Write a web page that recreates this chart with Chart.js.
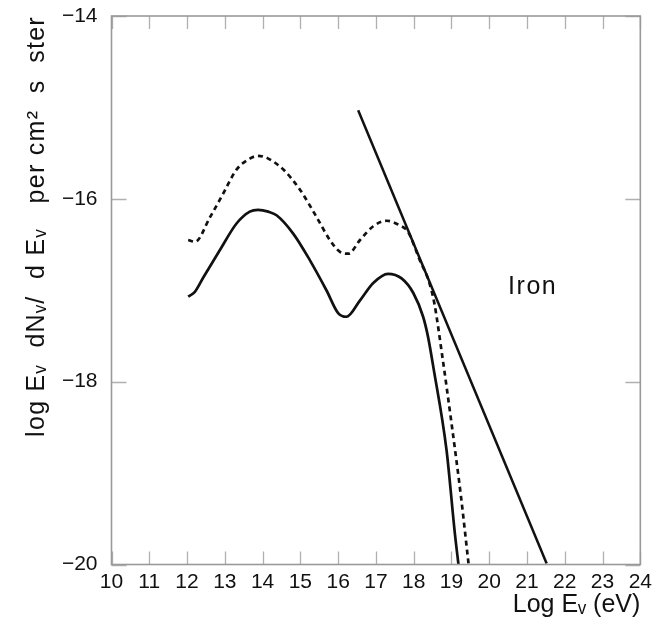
<!DOCTYPE html>
<html>
<head>
<meta charset="utf-8">
<script src="https://cdn.jsdelivr.net/npm/chart.js@4.4.1/dist/chart.umd.min.js"></script>
<style>
  html, body { margin: 0; padding: 0; background: #fff; }
  #wrap { width: 657px; height: 627px; }
</style>
</head>
<body>
<div id="wrap"><canvas id="c" width="657" height="627"></canvas></div>
<script>
// ---- data ----
const solidX  = [12.03, 12.20, 12.43, 12.87, 13.31, 13.66, 13.88, 14.15, 14.37, 14.81, 15.25, 15.69, 16.00, 16.22, 16.58, 16.93, 17.32, 17.68, 17.99, 18.25, 18.38, 18.52, 18.87, 19.09, 19.20];
const solidY  = [-17.07, -17.02, -16.86, -16.56, -16.27, -16.14, -16.12, -16.14, -16.18, -16.38, -16.67, -17.00, -17.25, -17.29, -17.11, -16.92, -16.82, -16.87, -17.03, -17.29, -17.51, -17.84, -18.75, -19.66, -20.05];

const dashedX = [12.03, 12.21, 12.61, 12.96, 13.31, 13.66, 13.88, 14.15, 14.55, 14.99, 15.43, 15.78, 16.05, 16.27, 16.58, 16.93, 17.28, 17.63, 17.85, 18.16, 18.40, 18.55, 18.75, 19.00, 19.25, 19.46];
const dashedY = [-16.45, -16.47, -16.20, -15.94, -15.68, -15.56, -15.53, -15.56, -15.68, -15.90, -16.20, -16.45, -16.58, -16.60, -16.45, -16.30, -16.24, -16.29, -16.36, -16.67, -16.90, -17.15, -17.70, -18.45, -19.25, -20.02];

const ironX = [16.53, 21.52];
const ironY = [-15.03, -19.99];

const xTicks = [10, 11, 12, 13, 14, 15, 16, 17, 18, 19, 20, 21, 22, 23, 24];
const yTicks = [-20, -18, -16, -14];

const labelText = "Iron";
const labelPos = [20.50, -16.97];

const xTitle = "Log E\u1D65 (eV)";
const yTitle = "log E\u1D65  dN\u1D65/  d E\u1D65   per cm\u00B2  s  ster";

// ---- helpers ----
const toPts = (xs, ys) => xs.map((x, i) => ({ x: x, y: ys[i] }));
const FONT = "'Liberation Sans', Arial, Helvetica, sans-serif";

// widen the letter spacing of the vertical axis title only
const _drawTitle = Chart.LinearScale.prototype.drawTitle;
Chart.LinearScale.prototype.drawTitle = function () {
  const ctx = this.ctx;
  const prev = ctx.letterSpacing;
  if (this.axis === 'y' && 'letterSpacing' in ctx) ctx.letterSpacing = '1.3px';
  _drawTitle.apply(this, arguments);
  if ('letterSpacing' in ctx) ctx.letterSpacing = prev;
};

const framePlugin = {
  id: 'frame',
  afterDatasetsDraw(chart) {
    const { ctx, chartArea: a, scales: { x, y } } = chart;
    ctx.save();
    ctx.strokeStyle = '#b0b0b0';
    ctx.lineWidth = 1.3;
    ctx.beginPath();
    xTicks.forEach(v => {
      const px = Math.round(x.getPixelForValue(v)) + 0.5;
      ctx.moveTo(px, a.bottom); ctx.lineTo(px, a.bottom - 13);
      ctx.moveTo(px, a.top); ctx.lineTo(px, a.top + 13);
    });
    yTicks.forEach(v => {
      const py = Math.round(y.getPixelForValue(v)) + 0.5;
      ctx.moveTo(a.left, py); ctx.lineTo(a.left + 15, py);
      ctx.moveTo(a.right, py); ctx.lineTo(a.right - 15, py);
    });
    ctx.stroke();
    ctx.strokeStyle = '#999999';
    ctx.lineWidth = 1.6;
    ctx.strokeRect(a.left, a.top, a.right - a.left, a.bottom - a.top);
    ctx.fillStyle = '#111';
    ctx.font = "25px " + FONT;
    if ('letterSpacing' in ctx) ctx.letterSpacing = '1.5px';
    ctx.textAlign = 'left';
    ctx.textBaseline = 'middle';
    ctx.fillText(labelText, x.getPixelForValue(labelPos[0]), y.getPixelForValue(labelPos[1]));
    ctx.restore();
  }
};

new Chart(document.getElementById('c'), {
  type: 'line',
  data: {
    datasets: [
      { label: 'solid', data: toPts(solidX, solidY), borderColor: '#111', borderWidth: 2.7, pointRadius: 0, cubicInterpolationMode: 'monotone', fill: false },
      { label: 'dashed', data: toPts(dashedX, dashedY), borderColor: '#111', borderWidth: 2.7, borderDash: [5, 4], pointRadius: 0, cubicInterpolationMode: 'monotone', fill: false },
      { label: 'Iron', data: toPts(ironX, ironY), borderColor: '#111', borderWidth: 2.5, pointRadius: 0, tension: 0, fill: false }
    ]
  },
  options: {
    responsive: false,
    animation: false,
    devicePixelRatio: 1,
    layout: { padding: { top: 16, right: 13, left: 0, bottom: 0 } },
    plugins: { legend: { display: false }, tooltip: { enabled: false } },
    scales: {
      x: {
        type: 'linear', min: 10, max: 24,
        afterBuildTicks: s => { s.ticks = xTicks.map(v => ({ value: v })); },
        afterFit: s => { s.height = 62.5; },
        grid: { display: false, drawTicks: false },
        border: { display: false },
        ticks: { padding: 5, color: '#111', font: { size: 21, family: FONT }, maxRotation: 0, autoSkip: false },
        title: { display: true, text: xTitle, align: 'end', color: '#111', font: { size: 25, family: FONT }, padding: { top: 0, bottom: 7 } }
      },
      y: {
        type: 'linear', min: -20, max: -14,
        afterBuildTicks: s => { s.ticks = yTicks.map(v => ({ value: v })); },
        afterFit: s => { s.width = 111.5; },
        grid: { display: false, drawTicks: true, tickLength: 12 },
        border: { display: false },
        ticks: { padding: 2, color: '#111', font: { size: 21, family: FONT }, callback: v => String(v).replace('-', '\u2212') },
        title: { display: true, text: yTitle, align: 'end', color: '#111', font: { size: 25, family: FONT }, padding: { top: 22, bottom: 0 } }
      }
    }
  },
  plugins: [framePlugin]
});
</script>
</body>
</html>
